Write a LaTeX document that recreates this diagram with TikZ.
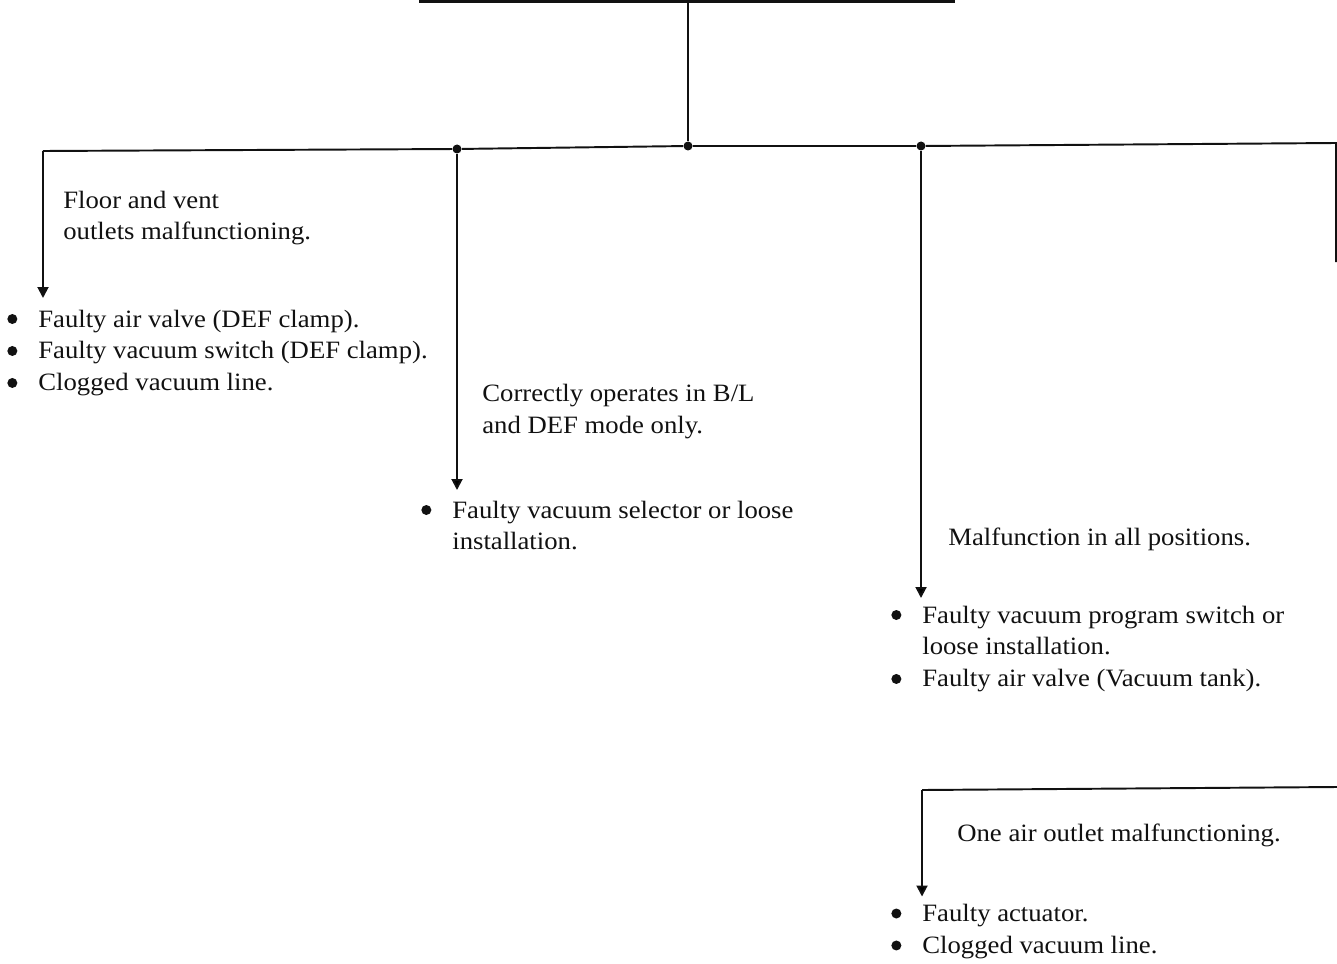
\documentclass[tikz,border=0pt]{standalone}
\usepackage{fontspec}
\setmainfont[FakeStretch=1.07]{Liberation Serif}
\usepackage{tikz}
\usetikzlibrary{arrows.meta}
\definecolor{ink}{HTML}{111111}
\newcommand{\bul}{\makebox[0.62cm][l]{\tikz[baseline=0pt]\fill[ink] (0.1,0.16) circle (0.1);}}
\newcommand{\cont}{\hspace*{0.62cm}}
\newcommand{\stack}[1]{\begin{tabular}[t]{@{}l@{}}#1\end{tabular}}

\begin{document}
\begin{tikzpicture}[
  line cap=butt, line join=miter,
  wire/.style={draw=ink, line width=1.1pt},
  flow/.style={wire, -{Triangle[length=0.22cm, width=0.22cm]}},
  jdot/.style={circle, fill=ink, inner sep=0pt, minimum size=0.18cm},
  lbl/.style={anchor=base west, inner sep=0pt, text=ink,
              font=\fontsize{14.2}{18.2}\selectfont},
  items/.style={lbl}]
\useasboundingbox (0,0) rectangle (26.74,-19.26);

% ==================================================== trunk from above
\coordinate (tl) at (8.38,-0.03);
\coordinate (tr) at (19.10,-0.03);
\coordinate (ttop) at (13.76,-0.03);
\draw[wire, line width=1.5pt] (tl) -- (tr);

\node[jdot] (jc) at (13.76,-2.92) {};
\node[jdot] (jl) at (9.14,-2.98) {};
\node[jdot] (jr) at (18.42,-2.92) {};
\coordinate (lend) at (0.86,-3.02);
\coordinate (rend) at (26.72,-2.86);
\coordinate (rdown) at (26.72,-5.24);

\draw[wire] (ttop) -- (jc);
\draw[wire] (lend) -- (jl) -- (jc) -- (jr) -- (rend) -- (rdown);

% ==================================================== left branch
\coordinate (ltip) at (0.86,-5.96);
\draw[flow] (lend) -- (ltip);
\node[lbl] (llbl) at (1.26,-4.16) {\stack{Floor and vent\\outlets malfunctioning.}};
\node[items] (litems) at (0.14,-6.54)
  {\stack{\bul Faulty air valve (DEF clamp).\\
   \bul Faulty vacuum switch (DEF clamp).\\
   \bul Clogged vacuum line.}};

% ==================================================== middle branch
\coordinate (mtip) at (9.15,-9.80);
\draw[flow] (jl) -- (jl |- mtip);
\node[lbl] (mlbl) at (9.64,-8.03) {\stack{Correctly operates in B/L\\and DEF mode only.}};
\node[items] (mitems) at (8.42,-10.36)
  {\stack{\bul Faulty vacuum selector or loose\\
   \cont installation.}};

% ==================================================== right branch
\coordinate (rtip) at (18.42,-11.96);
\draw[flow] (jr) -- (jr |- rtip);
\node[lbl] (rlbl) at (18.96,-10.90) {Malfunction in all positions.};
\node[items] (ritems) at (17.82,-12.46)
  {\stack{\bul Faulty vacuum program switch or\\
   \cont loose installation.\\
   \bul Faulty air valve (Vacuum tank).}};

% ==================================================== lower right branch
\coordinate (bend) at (26.74,-15.74);
\coordinate (bcorner) at (18.44,-15.80);
\coordinate (btip) at (18.44,-17.93);
\draw[wire] (bend) -- (bcorner);
\draw[flow] (bcorner) -- (btip);
\node[lbl] (blbl) at (19.14,-16.82) {One air outlet malfunctioning.};
\node[items] (bitems) at (17.82,-18.43)
  {\stack{\bul Faulty actuator.\\
   \bul Clogged vacuum line.}};

\end{tikzpicture}
\end{document}
